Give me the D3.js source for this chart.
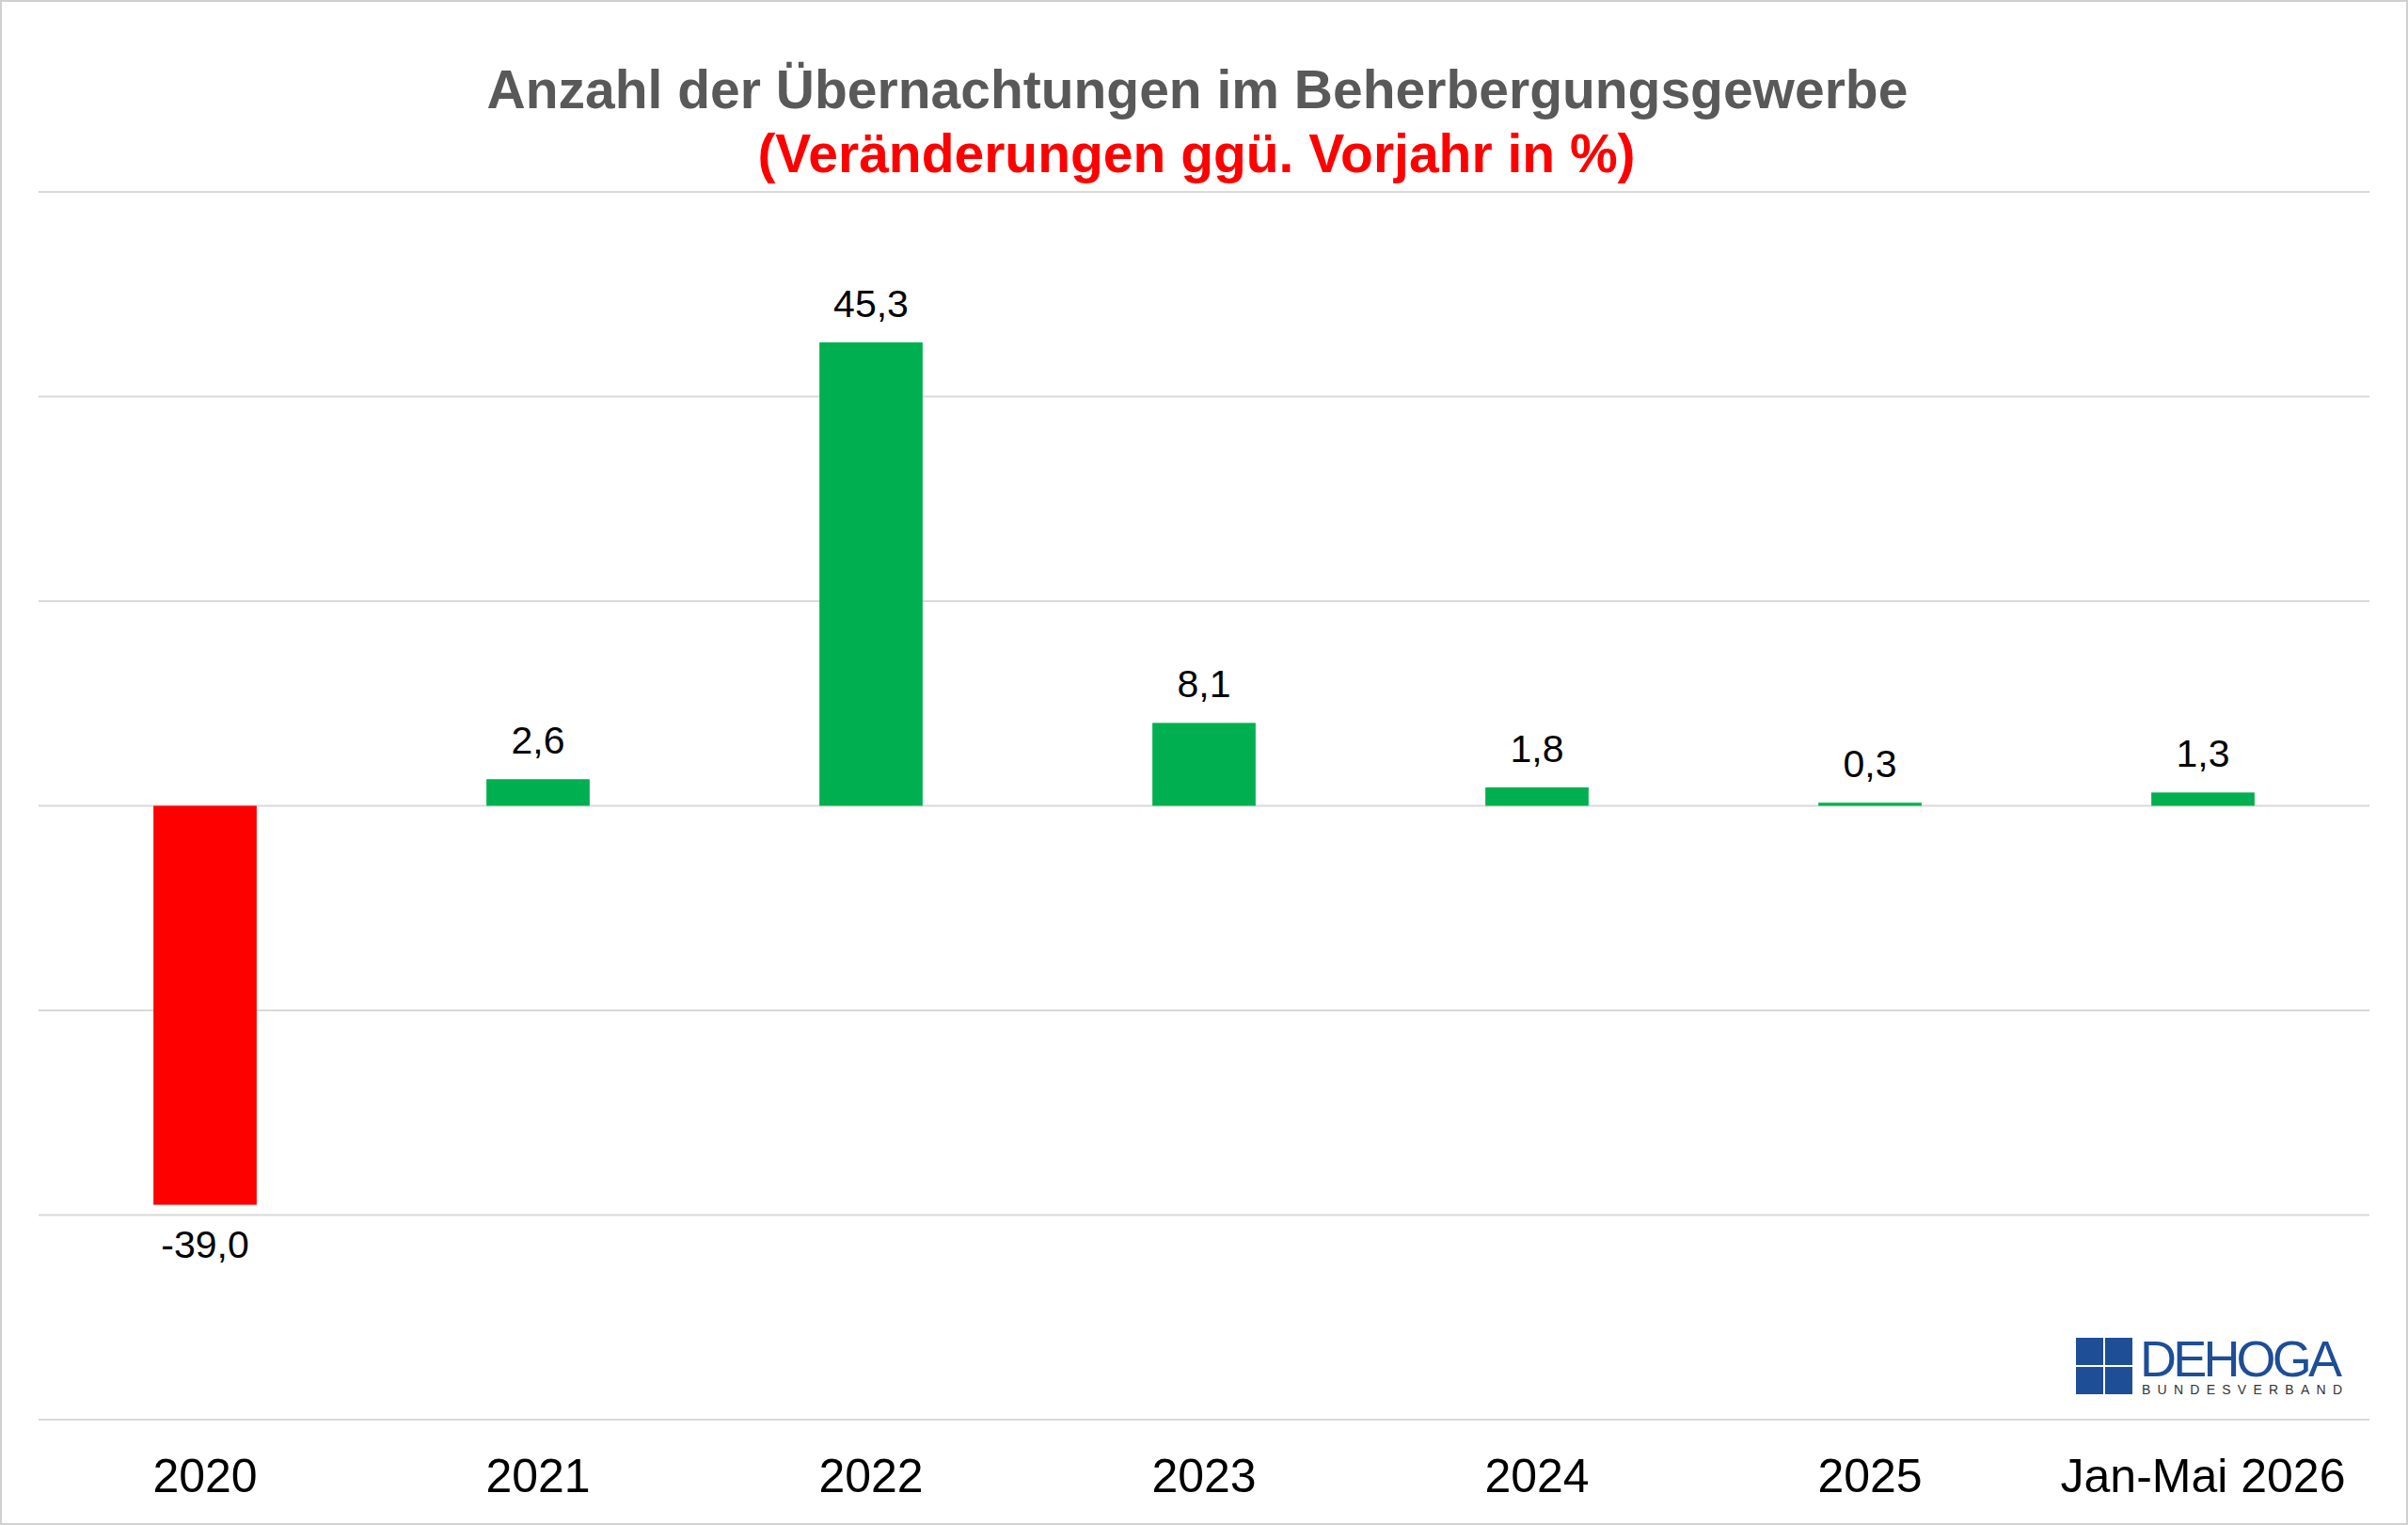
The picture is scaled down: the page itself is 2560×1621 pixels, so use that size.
<!DOCTYPE html>
<html><head><meta charset="utf-8">
<script src="https://cdn.jsdelivr.net/npm/d3@7"></script>
<style>body{margin:0;background:#fff}text{font-family:"Liberation Sans",Arial,sans-serif}</style>
</head><body><svg id="c" width="2560" height="1621"></svg>
<script>
var categories = ["2020", "2021", "2022", "2023", "2024", "2025", "Jan-Mai 2026"];
var values = [-39.0, 2.6, 45.3, 8.1, 1.8, 0.3, 1.3];
var gridTicks = [60, 40, 20, 0, -20, -40, -60];

var svg = d3.select("#c");
svg.append("rect").attr("x", 1).attr("y", 1).attr("width", 2558).attr("height", 1619)
    .attr("fill", "#fff").attr("stroke", "#d0d0d0").attr("stroke-width", 2);

var x = d3.scaleBand().domain(categories).range([41, 2519]).paddingInner(0.69).paddingOuter(0.345);
var y = d3.scaleLinear().domain([-60, 60]).range([1509, 204]);

svg.selectAll(".grid").data(gridTicks).enter().append("line")
    .attr("x1", 41).attr("x2", 2519)
    .attr("y1", function(d) { return y(d); }).attr("y2", function(d) { return y(d); })
    .attr("stroke", "#d9d9d9").attr("stroke-width", 2);

svg.selectAll(".bar").data(values).enter().append("rect")
    .attr("x", function(d, i) { return x(categories[i]); })
    .attr("width", x.bandwidth())
    .attr("y", function(d) { return y(Math.max(0, d)); })
    .attr("height", function(d) { return Math.abs(y(d) - y(0)); })
    .attr("fill", function(d) { return d < 0 ? "#ff0000" : "#00b050"; });

svg.selectAll(".lbl").data(values).enter().append("text")
    .attr("x", function(d, i) { return x(categories[i]) + x.bandwidth() / 2; })
    .attr("y", function(d) { return d < 0 ? y(d) + 56 : y(d) - 27; })
    .attr("text-anchor", "middle").attr("font-size", 41).attr("fill", "#000")
    .text(function(d) { return d.toFixed(1).replace(".", ","); });

svg.selectAll(".cat").data(categories).enter().append("text")
    .attr("x", function(d) { return x(d) + x.bandwidth() / 2; })
    .attr("y", 1586).attr("text-anchor", "middle").attr("font-size", 50).attr("fill", "#000")
    .text(function(d) { return d; });

svg.append("text").attr("x", 1273).attr("y", 115).attr("text-anchor", "middle")
    .attr("font-size", 57).attr("font-weight", "bold").attr("fill", "#595959")
    .text("Anzahl der Übernachtungen im Beherbergungsgewerbe");
svg.append("text").attr("x", 1272).attr("y", 183).attr("text-anchor", "middle")
    .attr("font-size", 57).attr("font-weight", "bold").attr("fill", "#ff0000")
    .text("(Veränderungen ggü. Vorjahr in %)");

// logo
var logo = svg.append("g");
[[2207, 1422], [2238, 1422], [2207, 1453], [2238, 1453]].forEach(function(p) {
  logo.append("rect").attr("x", p[0]).attr("y", p[1]).attr("width", 29).attr("height", 29).attr("fill", "#1d4e96");
});
logo.append("text").attr("x", 2275).attr("y", 1463).attr("font-size", 54).attr("fill", "#1d4e96")
    .attr("textLength", 215).text("DEHOGA");
logo.append("text").attr("x", 2277).attr("y", 1482).attr("font-size", 14).attr("fill", "#333")
    .attr("textLength", 213).text("BUNDESVERBAND");
</script></body></html>
